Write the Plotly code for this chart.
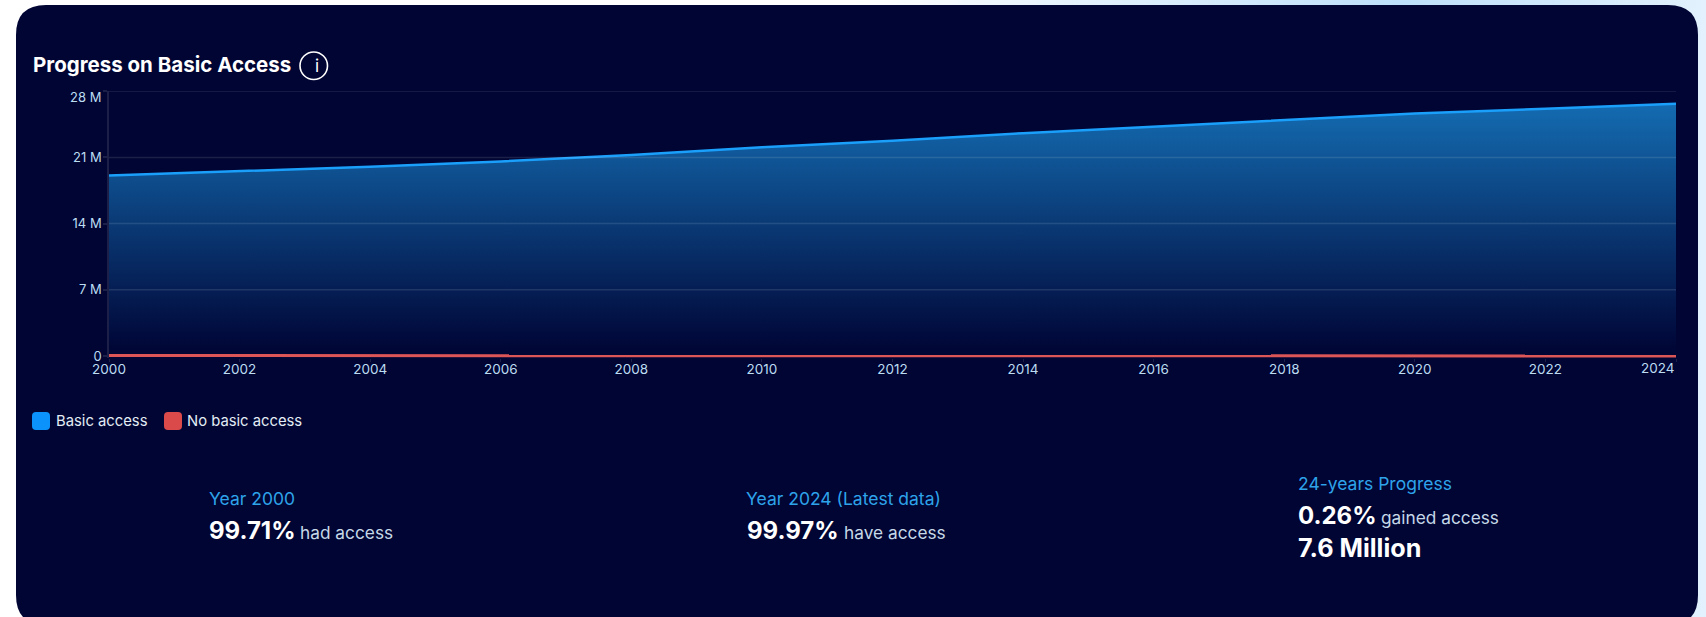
import base64
import plotly.graph_objects as go

W, H = 1706, 617
YEARS = [2000, 2002, 2004, 2006, 2008, 2010, 2012, 2014, 2016, 2018, 2020, 2022, 2024]
BASIC_ACCESS = [19.10, 19.55, 20.00, 20.57, 21.26, 22.07, 22.76, 23.56, 24.25, 24.94, 25.63, 26.15, 26.67]
NO_BASIC_ACCESS = [0.055, 0.05, 0.045, 0.04, 0.035, 0.03, 0.025, 0.02, 0.018, 0.015, 0.012, 0.01, 0.008]
Y_TICKS = [0, 7, 14, 21, 28]
Y_LABELS = ["0", "7 M", "14 M", "21 M", ""]
X_LABELS = [str(y) for y in YEARS[:-1]] + [""]

CARD = "#000533"
BLUE = "#1a9ffb"
RED = "#dc5557"
TICK = "#bcdcf2"
GRID = "rgba(255,255,255,0.11)"
FONT = "Inter, Liberation Sans, sans-serif"

def px(x): return x / W
def py(y): return 1 - y / H

svg = f'''<svg xmlns="http://www.w3.org/2000/svg" width="{W}" height="{H}"><defs>
<linearGradient id="g" x1="0" y1="0" x2="1" y2="0"><stop offset="0" stop-color="#ffffff"/><stop offset="0.5" stop-color="#ffffff"/>
<stop offset="0.82" stop-color="#bfe1fb"/><stop offset="1" stop-color="#e2f1fd"/></linearGradient></defs>
<rect width="{W}" height="{H}" fill="url(#g)"/></svg>'''
bg = "data:image/svg+xml;base64," + base64.b64encode(svg.encode()).decode()

fig = go.Figure()
fig.add_trace(go.Scatter(x=YEARS, y=BASIC_ACCESS, mode="lines", name="Basic access",
    line=dict(color=BLUE, width=2.5), fill="tozeroy",
    fillgradient=dict(type="vertical", start=0, stop=27,
        colorscale=[[0, CARD], [0.07, "#010a3c"], [1, "#146db3"]]),
    showlegend=False))
fig.add_trace(go.Scatter(x=YEARS, y=NO_BASIC_ACCESS, mode="lines", name="No basic access",
    line=dict(color=RED, width=3), showlegend=False))

def rr(x0, y0, x1, y1, r):
    return (f"M{px(x0+r)},{py(y0)} L{px(x1-r)},{py(y0)} Q{px(x1)},{py(y0)} {px(x1)},{py(y0+r)} "
            f"L{px(x1)},{py(y1-r)} Q{px(x1)},{py(y1)} {px(x1-r)},{py(y1)} "
            f"L{px(x0+r)},{py(y1)} Q{px(x0)},{py(y1)} {px(x0)},{py(y1-r)} "
            f"L{px(x0)},{py(y0+r)} Q{px(x0)},{py(y0)} {px(x0+r)},{py(y0)} Z")

shapes = [
    dict(type="path", path=rr(16, 5, 1698, 625, 30), xref="paper", yref="paper",
         fillcolor=CARD, line=dict(width=0), layer="below"),
    dict(type="path", path=rr(32, 412, 50, 430, 4), xref="paper", yref="paper",
         fillcolor="#0b93fb", line=dict(width=0)),
    dict(type="path", path=rr(164, 412, 182, 430, 4), xref="paper", yref="paper",
         fillcolor="#db4a4a", line=dict(width=0)),
    dict(type="circle", x0=px(300), x1=px(327.5), y0=py(52), y1=py(79.5), xref="paper", yref="paper",
         line=dict(color="#ffffff", width=1.6)),
]
for v in Y_TICKS[1:]:
    shapes.append(dict(type="line", xref="x", yref="y", x0=YEARS[0], x1=YEARS[-1], y0=v, y1=v,
                       line=dict(color=GRID, width=1.5), layer="above"))

def note(text, x, y, size, color="#ffffff", anchor="left", bold=False):
    return dict(text=f"<b>{text}</b>" if bold else text, x=px(x), y=py(y), xref="paper", yref="paper",
                xanchor=anchor, yanchor="middle", showarrow=False, align=anchor,
                font=dict(family=FONT, size=size, color=color), borderpad=0)

LABEL = "#2ea3ea"
SUB = "#c6d8e8"
annotations = [
    note("Progress on Basic Access", 32, 65, 20.5, bold=True),
    note("i", 313.7, 66, 17),
    note("28 M", 102, 97, 13, TICK, "right"),
    note("2024", 1676, 368, 13.5, TICK, "right"),
    note("Basic access", 55, 421, 14.8, "#e4edf5"),
    note("No basic access", 186, 421, 14.8, "#e4edf5"),
    note("Year 2000", 208, 498.5, 17.5, LABEL),
    note("99.71%", 208, 530, 24, bold=True),
    note("had access", 299, 532.5, 17.3, SUB),
    note("Year 2024 (Latest data)", 745, 498.5, 17.5, LABEL),
    note("99.97%", 746, 530, 24, bold=True),
    note("have access", 843, 532.5, 17.3, SUB),
    note("24-years Progress", 1297, 483, 17.5, LABEL),
    note("0.26%", 1297, 515, 24, bold=True),
    note("gained access", 1380, 517, 17.3, SUB),
    note("7.6 Million", 1297, 548, 25.2, bold=True),
]

Y_MIN = -0.25
fig.update_layout(
    width=W, height=H, margin=dict(l=0, r=0, t=0, b=0), autosize=False,
    paper_bgcolor="#ffffff", plot_bgcolor="rgba(0,0,0,0)", showlegend=False,
    shapes=shapes, annotations=annotations,
    images=[dict(source=bg, xref="paper", yref="paper", x=0, y=1, sizex=1, sizey=1,
                 sizing="stretch", xanchor="left", yanchor="top", layer="below")],
    xaxis=dict(domain=[px(109), px(1676)], range=[2000, 2024], tickvals=YEARS, ticktext=X_LABELS,
               showgrid=False, zeroline=False, showline=False, automargin=False,
               ticks="outside", ticklen=3, tickcolor=GRID, tickangle=0, ticklabelstandoff=-5,
               tickfont=dict(family=FONT, size=13.5, color=TICK)),
    yaxis=dict(domain=[py(358.4), py(91.2)], range=[Y_MIN, 28], tickvals=Y_TICKS, ticktext=Y_LABELS,
               showgrid=False, zeroline=False, automargin=False,
               showline=True, linecolor=GRID, linewidth=1.5,
               ticks="outside", ticklen=4, tickcolor=GRID, tickwidth=1.5, ticklabelstandoff=-1,
               tickfont=dict(family=FONT, size=13, color=TICK)),
)

fig.write_html("out.html", config=dict(displayModeBar=False),
               post_script="document.body.style.margin='0';document.body.style.overflow='hidden';")
